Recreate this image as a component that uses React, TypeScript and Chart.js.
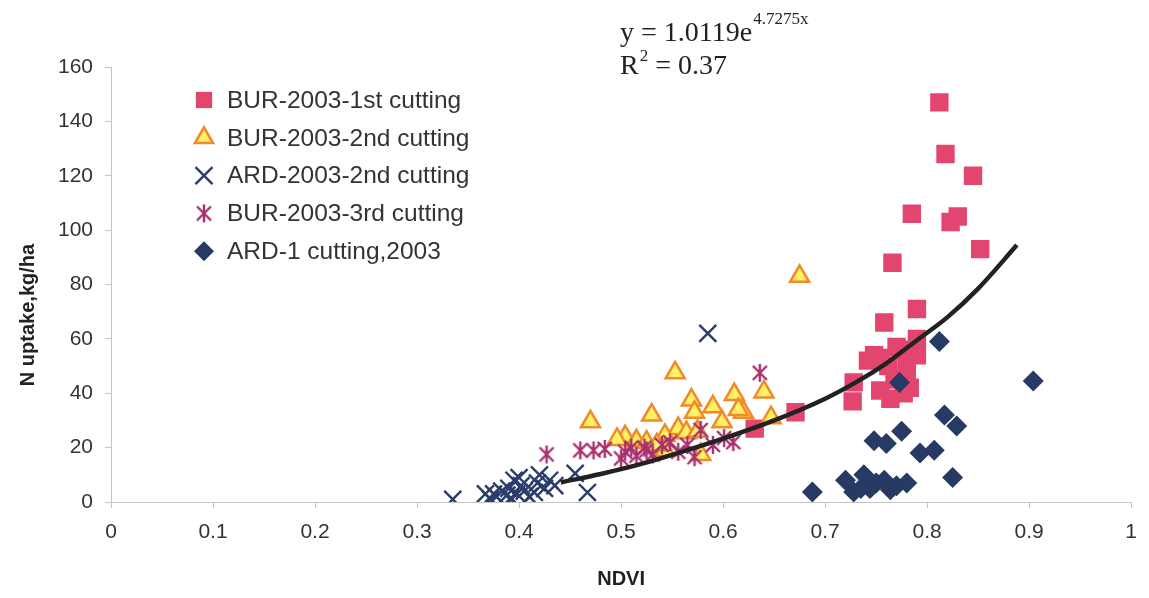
import React, { useEffect, useRef } from "react";
import { Chart, registerables } from "chart.js";
import { drawPoint } from "chart.js/helpers";

Chart.register(...registerables);

// ---- Data ----
const bur1X = [0.812, 0.818, 0.845, 0.785, 0.83, 0.823, 0.852, 0.766, 0.79, 0.758, 0.79, 0.785, 0.77, 0.748, 0.742, 0.755, 0.775, 0.78, 0.762, 0.78, 0.728, 0.727, 0.754, 0.764, 0.777, 0.783, 0.768, 0.671, 0.631, 0.79];
const bur1Y = [147, 128, 120, 106, 105, 103, 93, 88, 71, 66, 60, 55, 57, 54, 52, 53, 56, 50, 50, 47, 44, 37, 41, 38, 40, 42, 45, 33, 27, 54];

const bur2X = [0.675, 0.553, 0.47, 0.53, 0.569, 0.572, 0.59, 0.611, 0.64, 0.62, 0.599, 0.647, 0.556, 0.564, 0.504, 0.515, 0.543, 0.543, 0.578, 0.525, 0.535, 0.575, 0.496, 0.615];
const bur2Y = [83, 47.5, 29.5, 32, 37.5, 33, 35, 39.5, 40.5, 33, 29.5, 31, 27, 25.5, 24, 22.5, 24.5, 19, 17.5, 22, 21, 26, 23, 34];

const ard2X = [0.335, 0.367, 0.372, 0.375, 0.378, 0.383, 0.388, 0.39, 0.392, 0.395, 0.398, 0.4, 0.402, 0.405, 0.41, 0.415, 0.418, 0.42, 0.425, 0.43, 0.435, 0.455, 0.467, 0.585];
const ard2Y = [1, 3, 1, 3, 2, 4, 2.5, 5, 1.5, 8, 3, 9, 6, 4, 2, 3.5, 7, 10, 5, 8, 6, 10.5, 3.5, 62];

const bur3X = [0.427, 0.46, 0.473, 0.484, 0.5, 0.504, 0.51, 0.515, 0.523, 0.525, 0.531, 0.54, 0.548, 0.556, 0.565, 0.572, 0.578, 0.59, 0.601, 0.61, 0.636];
const bur3Y = [17.5, 19, 19, 19.5, 16, 18.5, 20, 17, 20, 19, 17.5, 21, 22, 18.5, 21, 16.5, 26.5, 21, 23.5, 22, 47.5];

const ard1X = [0.6875, 0.72, 0.728, 0.735, 0.738, 0.742, 0.744, 0.75, 0.758, 0.764, 0.77, 0.78, 0.748, 0.76, 0.775, 0.773, 0.812, 0.817, 0.829, 0.793, 0.807, 0.825, 0.904];
const ard1Y = [3.7, 8, 3.7, 5, 10, 6, 5, 7, 8, 4.5, 6, 7, 22.5, 21.5, 26, 44, 59, 32, 28, 18, 19, 9, 44.5];

const trendX = [0.441, 0.48, 0.52, 0.56, 0.6, 0.65, 0.7, 0.73, 0.76, 0.79, 0.82, 0.85, 0.888];
const trendY = [7.2, 10.3, 14, 18.5, 23.3, 30, 38, 44, 51, 59.5, 68, 78.5, 94.5];

const seriesLabels = [
  "BUR-2003-1st cutting",
  "BUR-2003-2nd cutting",
  "ARD-2003-2nd cutting",
  "BUR-2003-3rd cutting",
  "ARD-1 cutting,2003",
];
const xTicks = [0, 0.1, 0.2, 0.3, 0.4, 0.5, 0.6, 0.7, 0.8, 0.9, 1];
const yTicks = [0, 20, 40, 60, 80, 100, 120, 140, 160];
const equationMain = "y = 1.0119e";
const equationExp = "4.7275x";
const rSquared = "R";
const rSquaredRest = " = 0.37";
const yTitle = "N uptake,kg/ha";
const xTitle = "NDVI";

const zip = (xs: number[], ys: number[]) => xs.map((x, i) => ({ x, y: ys[i] }));

const SANS = '"Liberation Sans", Arial, sans-serif';
const SERIF = '"Liberation Serif", "Times New Roman", serif';

function makeAsterisk(color: string, size: number) {
  const c = document.createElement("canvas");
  c.width = size;
  c.height = size;
  const ctx = c.getContext("2d")!;
  ctx.strokeStyle = color;
  ctx.lineWidth = 2.4;
  const m = 3;
  ctx.beginPath();
  ctx.moveTo(m, m);
  ctx.lineTo(size - m, size - m);
  ctx.moveTo(size - m, m);
  ctx.lineTo(m, size - m);
  ctx.moveTo(size / 2, 1);
  ctx.lineTo(size / 2, size - 1);
  ctx.stroke();
  return c;
}

const insidePlugin = {
  id: "insideText",
  afterDraw(chart: any) {
    const ctx = chart.ctx as CanvasRenderingContext2D;
    ctx.save();
    // Legend
    const legendDatasets = chart.data.datasets.filter((d: any) => !d.isTrend);
    legendDatasets.forEach((ds: any, i: number) => {
      const cy = 100 + i * 37.8;
      const mx = 204;
      ctx.save();
      ctx.fillStyle = ds.pointBackgroundColor;
      ctx.strokeStyle = ds.pointBorderColor;
      ctx.lineWidth = ds.pointBorderWidth;
      drawPoint(ctx, { pointStyle: ds.pointStyle, radius: ds.legendRadius, rotation: 0, borderWidth: ds.pointBorderWidth } as any, mx, cy);
      ctx.restore();
      ctx.fillStyle = "#333";
      ctx.font = `24.5px ${SANS}`;
      ctx.textBaseline = "middle";
      ctx.textAlign = "left";
      ctx.fillText(ds.label, 227, cy + 1);
    });
    // Equation
    ctx.fillStyle = "#222";
    ctx.textBaseline = "alphabetic";
    ctx.textAlign = "left";
    ctx.font = `28px ${SERIF}`;
    ctx.fillText(equationMain, 620, 41);
    const w = ctx.measureText(equationMain).width;
    ctx.font = `17px ${SERIF}`;
    ctx.fillText(equationExp, 620 + w + 1, 24);
    ctx.font = `28px ${SERIF}`;
    ctx.fillText(rSquared, 620, 74);
    const rw = ctx.measureText(rSquared).width;
    ctx.font = `17px ${SERIF}`;
    ctx.fillText("2", 620 + rw + 1, 61);
    const sw = ctx.measureText("2").width;
    ctx.font = `28px ${SERIF}`;
    ctx.fillText(rSquaredRest, 620 + rw + sw + 1, 74);
    // Y axis title
    ctx.save();
    ctx.translate(28, 315);
    ctx.rotate(-Math.PI / 2);
    ctx.font = `bold 20px ${SANS}`;
    ctx.fillStyle = "#222";
    ctx.textAlign = "center";
    ctx.textBaseline = "middle";
    ctx.fillText(yTitle, 0, 0);
    ctx.restore();
    ctx.restore();
  },
};

export default function App() {
  const ref = useRef<HTMLCanvasElement | null>(null);
  useEffect(() => {
    if (!ref.current) return;
    const asterisk = makeAsterisk("#a8306f", 20);
    const chart = new Chart(ref.current, {
      type: "scatter",
      data: {
        datasets: [
          {
            label: seriesLabels[0],
            data: zip(bur1X, bur1Y),
            pointStyle: "rect",
            pointRadius: 13,
            legendRadius: 11.5,
            pointBackgroundColor: "#e2466f",
            pointBorderColor: "#e2466f",
            pointBorderWidth: 0,
            order: 5,
          } as any,
          {
            label: seriesLabels[1],
            data: zip(bur2X, bur2Y),
            pointStyle: "triangle",
            pointRadius: 11,
            legendRadius: 10.5,
            pointBackgroundColor: "#fff064",
            pointBorderColor: "#f08a2c",
            pointBorderWidth: 2.5,
            order: 4,
          } as any,
          {
            label: seriesLabels[2],
            data: zip(ard2X, ard2Y),
            pointStyle: "crossRot",
            pointRadius: 12,
            legendRadius: 12,
            pointBackgroundColor: "#2b3d6b",
            pointBorderColor: "#2b3d6b",
            pointBorderWidth: 2.4,
            order: 3,
          } as any,
          {
            label: seriesLabels[3],
            data: zip(bur3X, bur3Y),
            pointStyle: asterisk,
            pointRadius: 10,
            legendRadius: 10,
            pointBackgroundColor: "#a8306f",
            pointBorderColor: "#a8306f",
            pointBorderWidth: 2,
            order: 2,
          } as any,
          {
            label: seriesLabels[4],
            data: zip(ard1X, ard1Y),
            pointStyle: "rectRot",
            pointRadius: 10.5,
            legendRadius: 10,
            pointBackgroundColor: "#263a63",
            pointBorderColor: "#263a63",
            pointBorderWidth: 0,
            order: 1,
          } as any,
          {
            label: "trend",
            isTrend: true,
            data: zip(trendX, trendY),
            showLine: true,
            borderColor: "#222",
            borderWidth: 4.5,
            pointRadius: 0,
            tension: 0.4,
            cubicInterpolationMode: "monotone",
            order: 0,
          } as any,
        ],
      },
      options: {
        animation: false,
        responsive: false,
        maintainAspectRatio: false,
        layout: { padding: { top: 67, right: 14, left: 0, bottom: 0 } },
        plugins: { legend: { display: false }, tooltip: { enabled: false } },
        scales: {
          x: {
            type: "linear",
            min: 0,
            max: 1,
            afterBuildTicks: (s: any) => {
              s.ticks = xTicks.map((v) => ({ value: v }));
            },
            afterFit: (s: any) => {
              s.height = 96;
            },
            ticks: {
              font: { size: 21, family: SANS },
              color: "#333",
              padding: 12,
              callback: (v: any) => String(Number(Number(v).toFixed(1))),
            },
            grid: { drawOnChartArea: false, drawTicks: true, tickLength: 6, color: "#c4c4c4" },
            border: { color: "#c4c4c4", width: 1 },
            title: {
              display: true,
              text: xTitle,
              font: { size: 20, weight: "bold", family: SANS },
              color: "#222",
              padding: { top: 0, bottom: 7 },
            },
          },
          y: {
            type: "linear",
            min: 0,
            max: 160,
            afterBuildTicks: (s: any) => {
              s.ticks = yTicks.map((v) => ({ value: v }));
            },
            afterFit: (s: any) => {
              s.width = 111;
            },
            ticks: { font: { size: 21, family: SANS }, color: "#333", padding: 12 },
            grid: { drawOnChartArea: false, drawTicks: true, tickLength: 6, color: "#c4c4c4" },
            border: { color: "#c4c4c4", width: 1 },
          },
        },
      },
      plugins: [insidePlugin],
    } as any);
    return () => chart.destroy();
  }, []);
  return (
    <div style={{ position: "fixed", left: 0, top: 0, width: 1149, height: 598, background: "#fff" }}>
      <canvas ref={ref} width={1149} height={598} style={{ width: 1149, height: 598, display: "block" }} />
    </div>
  );
}
